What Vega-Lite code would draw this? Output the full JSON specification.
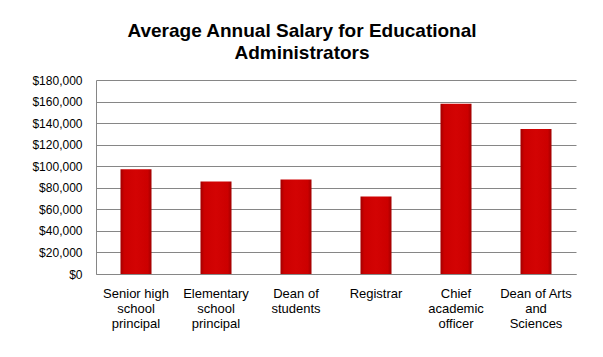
{
  "$schema": "https://vega.github.io/schema/vega-lite/v6.json",
  "autosize": "none",
  "width": 480,
  "height": 194,
  "padding": {"left": 96, "top": 80, "right": 27, "bottom": 83},
  "background": "white",
  "title": {
    "text": ["Average Annual Salary for Educational", "Administrators"],
    "anchor": "middle",
    "frame": "group",
    "dx": -34,
    "offset": 11,
    "font": "Liberation Sans",
    "fontSize": 19,
    "fontWeight": "bold",
    "lineHeight": 22,
    "color": "black"
  },
  "data": {
    "values": [
      {"role": "Senior high school principal", "salary": 97300},
      {"role": "Elementary school principal", "salary": 85800},
      {"role": "Dean of students", "salary": 87700},
      {"role": "Registrar", "salary": 71900},
      {"role": "Chief academic officer", "salary": 158000},
      {"role": "Dean of Arts and Sciences", "salary": 134500}
    ]
  },
  "mark": {
    "type": "bar",
    "width": 31,
    "color": {
      "gradient": "linear",
      "x1": 0, "y1": 0, "x2": 1, "y2": 0,
      "stops": [
        {"offset": 0, "color": "#a00000"},
        {"offset": 0.12, "color": "#cc0000"},
        {"offset": 0.5, "color": "#d30303"},
        {"offset": 0.88, "color": "#cc0000"},
        {"offset": 1, "color": "#a00000"}
      ]
    }
  },
  "encoding": {
    "x": {
      "field": "role",
      "type": "nominal",
      "sort": null,
      "scale": {"paddingInner": 0, "paddingOuter": 0},
      "axis": {
        "title": null,
        "labelAngle": 0,
        "ticks": false,
        "domainColor": "#868686",
        "labelFont": "Liberation Sans",
        "labelFontSize": 13,
        "labelColor": "black",
        "labelLineHeight": 15,
        "labelPadding": 13,
        "labelExpr": "datum.label == 'Senior high school principal' ? ['Senior high', 'school', 'principal'] : datum.label == 'Elementary school principal' ? ['Elementary', 'school', 'principal'] : datum.label == 'Dean of students' ? ['Dean of', 'students'] : datum.label == 'Chief academic officer' ? ['Chief', 'academic', 'officer'] : datum.label == 'Dean of Arts and Sciences' ? ['Dean of Arts', 'and', 'Sciences'] : datum.label"
      }
    },
    "y": {
      "field": "salary",
      "type": "quantitative",
      "scale": {"domain": [0, 180000], "nice": false},
      "axis": {
        "title": null,
        "values": [0, 20000, 40000, 60000, 80000, 100000, 120000, 140000, 160000, 180000],
        "format": "$,.0f",
        "ticks": false,
        "domainColor": "#868686",
        "gridColor": "#868686",
        "gridOpacity": 1,
        "labelFont": "Liberation Sans",
        "labelFontSize": 12,
        "labelColor": "black",
        "labelPadding": 14
      }
    }
  },
  "config": {
    "view": {"stroke": null}
  }
}
